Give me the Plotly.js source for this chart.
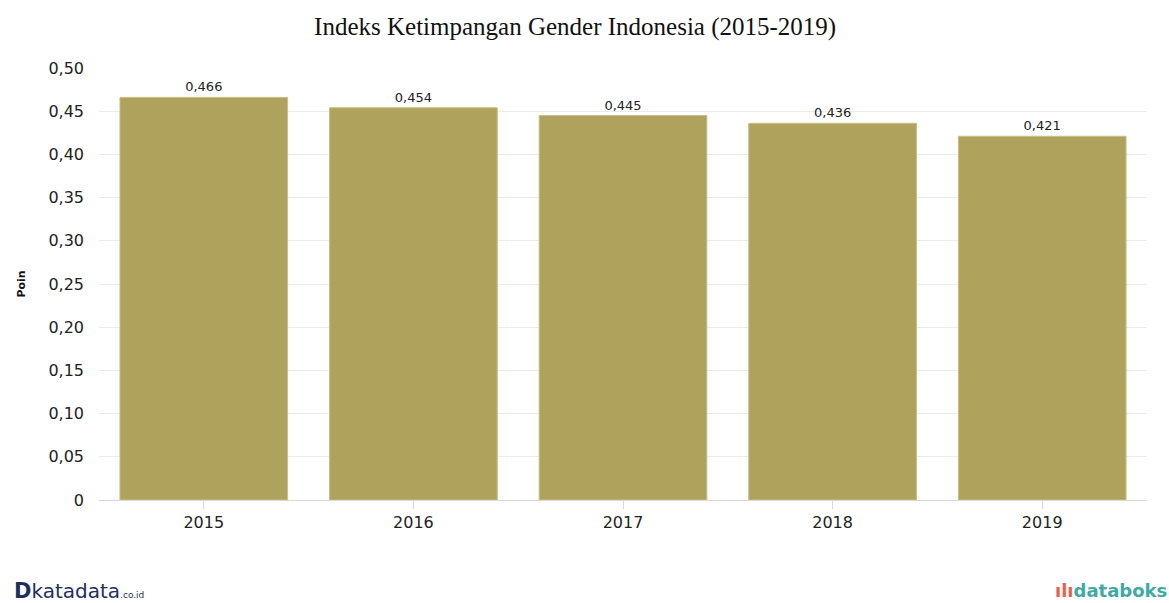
<!DOCTYPE html>
<html>
<head>
<meta charset="utf-8">
<script src="https://cdn.plot.ly/plotly-3.0.1.min.js"></script>
<style>html,body{margin:0;padding:0;background:#fff;}#chart{width:1169px;height:603px;}</style>
</head>
<body>
<div id="chart"></div>
<script>
const years = ["2015", "2016", "2017", "2018", "2019"];
const values = [0.466, 0.454, 0.445, 0.436, 0.421];
const valueLabels = ["0,466", "0,454", "0,445", "0,436", "0,421"];
const yTickVals = [0, 0.05, 0.10, 0.15, 0.20, 0.25, 0.30, 0.35, 0.40, 0.45, 0.50];
const yTickText = ["0", "0,05", "0,10", "0,15", "0,20", "0,25", "0,30", "0,35", "0,40", "0,45", "0,50"];

const trace = {
  type: "bar",
  x: years,
  y: values,
  text: valueLabels,
  textposition: "outside",
  cliponaxis: false,
  textfont: {family: "DejaVu Sans, Verdana, sans-serif", size: 13, color: "#222"},
  marker: {color: "#afa25c", line: {color: "#c9be86", width: 1}},
  hoverinfo: "none"
};

const layout = {
  width: 1169, height: 603,
  margin: {l: 99, r: 22, t: 68, b: 103},
  paper_bgcolor: "#fff", plot_bgcolor: "#fff",
  bargap: 0.2,
  showlegend: false,
  title: {
    text: "Indeks Ketimpangan Gender Indonesia (2015-2019)",
    font: {family: "Liberation Serif, Times New Roman, serif", size: 25, color: "#111"},
    x: 0.492, xanchor: "center", y: 0.957, yanchor: "middle"
  },
  xaxis: {
    type: "category",
    tickfont: {family: "DejaVu Sans, Verdana, sans-serif", size: 16, color: "#222"},
    showline: true, linecolor: "#d8d8d8", linewidth: 1,
    ticks: "outside", ticklen: 8, tickcolor: "#d8d8d8",
    showgrid: false, zeroline: false
  },
  yaxis: {
    range: [0, 0.5],
    tickvals: yTickVals, ticktext: yTickText,
    tickfont: {family: "DejaVu Sans, Verdana, sans-serif", size: 16, color: "#222"},
    showgrid: true, gridcolor: "#ececec", gridwidth: 1,
    zeroline: false, showline: false, ticks: "", ticklabelstandoff: 14,
    title: {text: "<b>Poin</b>", font: {family: "DejaVu Sans, Verdana, sans-serif", size: 11, color: "#111"}, standoff: 20}
  },
  annotations: [
    {xref: "paper", yref: "paper", x: -0.083, y: -0.21, xanchor: "left", yanchor: "middle", showarrow: false,
     text: "<b><span style='font-size:21px'>D</span></b><span style='font-size:20px'>katadata</span><span style='font-size:9px'>.co.id</span>",
     font: {family: "DejaVu Sans, Verdana, sans-serif", color: "#1d2f5e", size: 20}},
    {xref: "paper", yref: "paper", x: 1.021, y: -0.21, xanchor: "right", yanchor: "middle", showarrow: false,
     text: "<span style='color:#e8604c'><b>ılı</b></span><b>databoks</b>",
     font: {family: "DejaVu Sans, Verdana, sans-serif", color: "#3fa9a6", size: 18}}
  ]
};

Plotly.newPlot("chart", [trace], layout, {displayModeBar: false, staticPlot: true});
</script>
</body>
</html>
